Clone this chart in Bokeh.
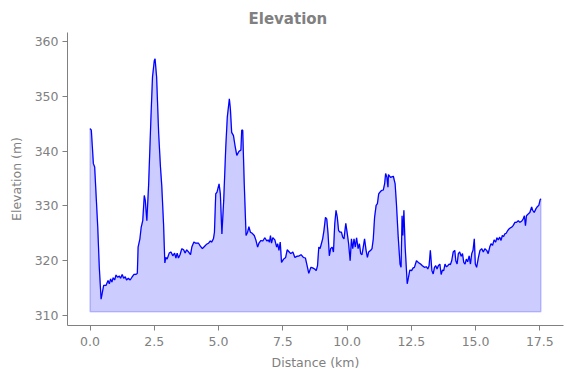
from bokeh.plotting import figure
from bokeh.models import FixedTicker, NumeralTickFormatter, Range1d
from bokeh.embed import file_html
from bokeh.resources import INLINE

dist_km = [0.00, 0.05, 0.13, 0.18, 0.30, 0.36, 0.43, 0.47, 0.53, 0.62, 0.70, 0.75, 0.80, 0.85, 0.90, 0.96,
           1.01, 1.07, 1.14, 1.19, 1.25, 1.31, 1.37, 1.42, 1.49, 1.56, 1.63, 1.71, 1.78, 1.84, 1.87, 1.94,
           1.99, 2.05, 2.11, 2.15, 2.21, 2.28, 2.37, 2.43, 2.50, 2.53, 2.59, 2.67, 2.74, 2.79, 2.86, 2.91,
           2.95, 3.00, 3.08, 3.15, 3.22, 3.29, 3.34, 3.39, 3.44, 3.50, 3.57, 3.64, 3.70, 3.76, 3.83, 3.91,
           3.96, 4.04, 4.11, 4.22, 4.30, 4.37, 4.45, 4.53, 4.61, 4.68, 4.73, 4.80, 4.84, 4.89, 4.94, 5.02,
           5.07, 5.13, 5.20, 5.28, 5.34, 5.42, 5.46, 5.51, 5.58, 5.64, 5.71, 5.79, 5.87, 5.90, 5.94, 6.00,
           6.07, 6.13, 6.18, 6.24, 6.31, 6.39, 6.45, 6.52, 6.57, 6.65, 6.72, 6.80, 6.88, 6.93, 6.98, 7.02,
           7.06, 7.11, 7.19, 7.26, 7.30, 7.35, 7.40, 7.45, 7.53, 7.61, 7.67, 7.75, 7.81, 7.89, 7.97, 8.04,
           8.14, 8.21, 8.30, 8.38, 8.46, 8.51, 8.59, 8.66, 8.74, 8.80, 8.85, 8.90, 8.95, 9.00, 9.05, 9.10,
           9.16, 9.21, 9.26, 9.31, 9.36, 9.42, 9.47, 9.52, 9.57, 9.62, 9.67, 9.73, 9.78, 9.83, 9.88, 9.95,
           10.01, 10.06, 10.12, 10.17, 10.22, 10.27, 10.32, 10.37, 10.43, 10.48, 10.53, 10.58, 10.63, 10.68,
           10.74, 10.79, 10.84, 10.92, 10.97, 11.02, 11.07, 11.13, 11.18, 11.23, 11.28, 11.34, 11.41, 11.46,
           11.50, 11.55, 11.59, 11.61, 11.69, 11.80, 11.87, 11.92, 11.99, 12.06, 12.10, 12.14, 12.17, 12.21,
           12.26, 12.34, 12.39, 12.44, 12.51, 12.57, 12.62, 12.70, 12.77, 12.86, 12.93, 13.01, 13.09, 13.14,
           13.19, 13.24, 13.30, 13.35, 13.40, 13.45, 13.50, 13.55, 13.61, 13.66, 13.71, 13.76, 13.81, 13.86,
           13.92, 13.97, 14.02, 14.07, 14.13, 14.19, 14.23, 14.28, 14.33, 14.38, 14.44, 14.49, 14.54, 14.59,
           14.64, 14.69, 14.75, 14.80, 14.85, 14.90, 14.95, 14.99, 15.04, 15.11, 15.17, 15.24, 15.30, 15.36,
           15.43, 15.49, 15.55, 15.60, 15.66, 15.72, 15.78, 15.83, 15.88, 15.94, 15.99, 16.04, 16.09, 16.14,
           16.19, 16.25, 16.30, 16.35, 16.40, 16.46, 16.53, 16.59, 16.66, 16.72, 16.79, 16.85, 16.90, 16.94,
           16.98, 17.04, 17.11, 17.18, 17.22, 17.28, 17.35, 17.41, 17.46, 17.51, 17.54]

elev_m = [344.1, 343.8, 337.7, 337.1, 326.1, 318.8, 313.0, 314.0, 315.5, 315.5, 316.4, 315.8, 316.7, 316.1, 316.9, 316.5,
          317.4, 317.0, 317.2, 316.8, 317.5, 316.8, 317.1, 316.5, 316.8, 316.5, 317.0, 317.5, 317.5, 317.7, 322.5, 324.0,
          326.1, 327.3, 331.9, 331.0, 327.3, 334.0, 346.2, 353.5, 356.5, 356.8, 353.5, 343.2, 337.1, 333.7, 326.7, 319.6,
          320.6, 320.3, 321.4, 321.6, 320.9, 321.4, 320.5, 321.4, 320.5, 321.1, 322.2, 322.0, 321.4, 322.0, 321.6, 321.1,
          322.5, 323.4, 323.2, 323.2, 322.6, 322.2, 322.6, 323.0, 323.2, 323.6, 323.4, 324.0, 325.2, 332.2, 332.5, 334.0,
          332.2, 324.9, 331.0, 340.7, 346.2, 349.5, 347.7, 343.4, 342.8, 341.0, 339.2, 339.9, 340.2, 343.8, 343.8, 334.0,
          324.6, 325.2, 326.2, 325.2, 325.0, 324.6, 323.8, 322.5, 323.2, 323.7, 323.6, 324.2, 323.6, 323.8, 323.4, 324.6,
          323.2, 324.2, 323.8, 322.5, 323.1, 321.9, 323.4, 319.7, 320.3, 320.6, 322.0, 321.6, 321.3, 321.6, 320.6, 320.8,
          320.9, 321.1, 320.6, 320.5, 318.8, 317.7, 318.8, 318.7, 318.5, 318.2, 319.1, 322.5, 322.2, 323.1, 324.0, 325.5,
          327.9, 327.6, 324.9, 320.9, 322.2, 322.5, 321.6, 326.7, 329.2, 327.9, 325.5, 325.2, 325.2, 324.3, 324.0, 326.8,
          324.9, 323.1, 320.0, 324.0, 322.2, 324.0, 322.5, 324.2, 322.2, 323.1, 321.3, 321.1, 322.5, 324.0,
          321.9, 320.6, 321.6, 321.9, 322.2, 324.0, 327.9, 330.1, 330.4, 332.2, 332.5, 332.8, 332.9, 334.0,
          335.9, 335.2, 333.4, 335.7, 335.2, 335.4, 334.0, 330.4, 324.3, 319.4, 318.8, 328.2, 324.6, 329.2,
          322.5, 315.8, 317.0, 318.3, 318.2, 318.7, 318.8, 320.0, 319.7, 319.4, 319.1, 318.8, 318.9, 318.5,
          319.1, 321.9, 318.2, 317.6, 318.8, 319.1, 318.5, 319.1, 319.4, 317.5, 318.3, 318.2, 319.4, 318.9,
          319.1, 319.4, 319.3, 320.0, 321.6, 321.9, 320.0, 319.4, 321.3, 321.6, 320.8, 321.3, 319.7, 319.4,
          320.3, 319.8, 320.9, 319.4, 321.3, 321.9, 324.0, 319.4, 318.8, 320.6, 321.9, 322.2, 321.6, 322.2,
          321.9, 321.3, 322.5, 323.1, 322.8, 323.8, 323.4, 324.2, 323.8, 324.3, 323.7, 324.6, 324.4, 324.9,
          325.0, 325.5, 325.8, 326.0, 326.1, 326.4, 327.0, 327.0, 327.3, 327.0, 327.2, 327.6, 328.2, 326.4,
          328.2, 328.5, 328.8, 329.8, 329.2, 328.8, 329.5, 329.9, 330.1, 331.1, 331.3]

fill_base_m = 310.7
x_ticks = [0.0, 2.5, 5.0, 7.5, 10.0, 12.5, 15.0, 17.5]
y_ticks = [310, 320, 330, 340, 350, 360]

GRAY = "#808080"
FONT = "DejaVu Sans"

p = figure(width=571, height=378, output_backend="svg", toolbar_location=None,
           x_range=Range1d(-0.877, 18.42), y_range=Range1d(308.2, 361.6),
           min_border_left=67, min_border_right=8, min_border_top=32, min_border_bottom=53,
           title="Elevation")
p.outline_line_color = None
p.xgrid.visible = False
p.ygrid.visible = False
p.background_fill_color = "white"
p.border_fill_color = "white"

p.title.align = "left"
p.title.offset = 181
p.title.text_font = FONT
p.title.text_font_size = "15px"
p.title.text_font_style = "bold"
p.title.text_color = GRAY
p.title.standoff = 9

patch_x = list(dist_km) + list(reversed(dist_km))
patch_y = list(elev_m) + [fill_base_m] * len(dist_km)
p.patch(patch_x, patch_y, fill_color="blue", fill_alpha=0.2, line_color="blue", line_alpha=0.2, line_width=1.5)
p.line(dist_km, elev_m, line_color="blue", line_width=1.2)

for ax in (p.xaxis[0], p.yaxis[0]):
    ax.axis_line_color = GRAY
    ax.major_tick_line_color = GRAY
    ax.minor_tick_line_color = None
    ax.major_tick_in = 0
    ax.major_tick_out = 5
    ax.major_label_text_color = GRAY
    ax.major_label_text_font = FONT
    ax.major_label_text_font_size = "12.5px"
    ax.axis_label_text_color = GRAY
    ax.axis_label_text_font = FONT
    ax.axis_label_text_font_size = "12.5px"
    ax.axis_label_text_font_style = "normal"
    ax.major_label_standoff = 4

p.xaxis[0].ticker = FixedTicker(ticks=x_ticks)
p.xaxis[0].formatter = NumeralTickFormatter(format="0.0")
p.yaxis[0].ticker = FixedTicker(ticks=y_ticks)
p.xaxis[0].major_label_standoff = 6
p.xaxis[0].axis_label = "Distance (km)"
p.yaxis[0].axis_label = "Elevation (m)"
p.xaxis[0].axis_label_standoff = 6
p.yaxis[0].axis_label_standoff = 8

open("out.html", "w").write(file_html(p, INLINE))
